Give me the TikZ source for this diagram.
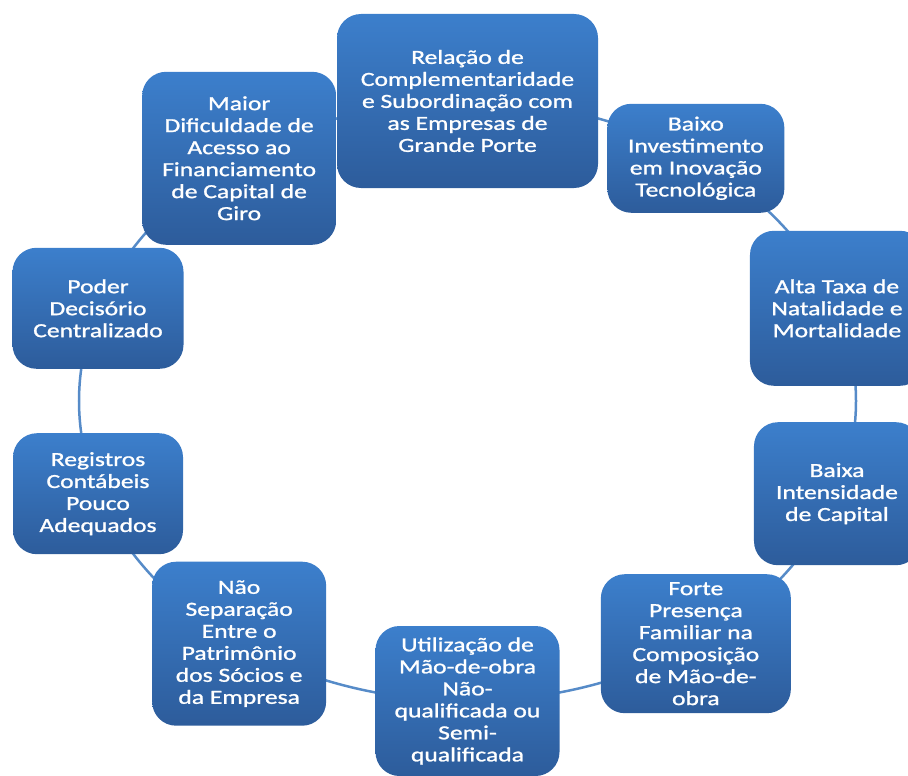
\documentclass[tikz,border=0pt]{standalone}
\usepackage{fontspec}
\newfontfamily\boxfont[FakeStretch=1.28,FakeBold=1.2]{Carlito}
\usetikzlibrary{calc}
\pgfdeclarelayer{background}
\pgfsetlayers{background,main}
\definecolor{boxtop}{RGB}{60,127,204}
\definecolor{boxbot}{RGB}{45,92,155}
\definecolor{connc}{RGB}{86,139,200}
\begin{document}
\begin{tikzpicture}[x=1pt,y=1pt,
  box/.style={rounded corners=24pt, top color=boxtop, bottom color=boxbot, draw=none,
    text=white, align=center, font=\boxfont\fontsize{20}{22}\selectfont, inner sep=0pt},
  conn/.style={draw=connc, line width=2.5pt},
  ell/.style={x radius=388.5pt, y radius=300pt}]
\useasboundingbox (0,0) rectangle (908,-776);
\coordinate (O) at (467.5,-401);
\node[box, minimum width=261pt, minimum height=174pt] (n0) at ([shift={(90:388.5pt and 300pt)}]O)
  {Relação de\\Complementaridade\\e Subordinação com\\as Empresas de\\Grande Porte};
\node[box, minimum width=177pt, minimum height=109pt] (n1) at ([shift={(54:388.5pt and 300pt)}]O)
  {Baixo\\Investimento\\em Inovação\\Tecnológica};
\node[box, minimum width=174pt, minimum height=155pt] (n2) at ([shift={(18:388.5pt and 300pt)}]O)
  {Alta Taxa de\\Natalidade e\\Mortalidade};
\node[box, minimum width=166pt, minimum height=143pt] (n3) at ([shift={(-18:388.5pt and 300pt)}]O)
  {Baixa\\Intensidade\\de Capital};
\node[box, minimum width=190pt, minimum height=139pt] (n4) at ([shift={(-54:388.5pt and 300pt)}]O)
  {Forte\\Presença\\Familiar na\\Composição\\de Mão-de-\\obra};
\node[box, minimum width=184pt, minimum height=150pt] (n5) at ([shift={(-90:388.5pt and 300pt)}]O)
  {Utilização de\\Mão-de-obra\\Não-\\qualificada ou\\Semi-\\qualificada};
\node[box, minimum width=174pt, minimum height=164pt] (n6) at ([shift={(-126:388.5pt and 300pt)}]O)
  {Não\\Separação\\Entre o\\Patrimônio\\dos Sócios e\\da Empresa};
\node[box, minimum width=170pt, minimum height=121pt] (n7) at ([shift={(-162:388.5pt and 300pt)}]O)
  {Registros\\Contábeis\\Pouco\\Adequados};
\node[box, minimum width=171pt, minimum height=121pt] (n8) at ([shift={(162:388.5pt and 300pt)}]O)
  {Poder\\Decisório\\Centralizado};
\node[box, minimum width=194pt, minimum height=173pt] (n9) at ([shift={(126:388.5pt and 300pt)}]O)
  {Maior\\Dificuldade de\\Acesso ao\\Financiamento\\de Capital de\\Giro};
\begin{pgfonlayer}{background}
\draw[conn] (n0.center) arc[start angle=90, end angle=54, ell];
\draw[conn] (n1.center) arc[start angle=54, end angle=18, ell];
\draw[conn] (n2.center) arc[start angle=18, end angle=-18, ell];
\draw[conn] (n3.center) arc[start angle=-18, end angle=-54, ell];
\draw[conn] (n4.center) arc[start angle=-54, end angle=-90, ell];
\draw[conn] (n5.center) arc[start angle=-90, end angle=-126, ell];
\draw[conn] (n6.center) arc[start angle=-126, end angle=-162, ell];
\draw[conn] (n7.center) arc[start angle=-162, end angle=-198, ell];
\draw[conn] (n8.center) arc[start angle=162, end angle=126, ell];
\draw[conn] (n9.center) arc[start angle=126, end angle=90, ell];
\end{pgfonlayer}
\end{tikzpicture}
\end{document}
